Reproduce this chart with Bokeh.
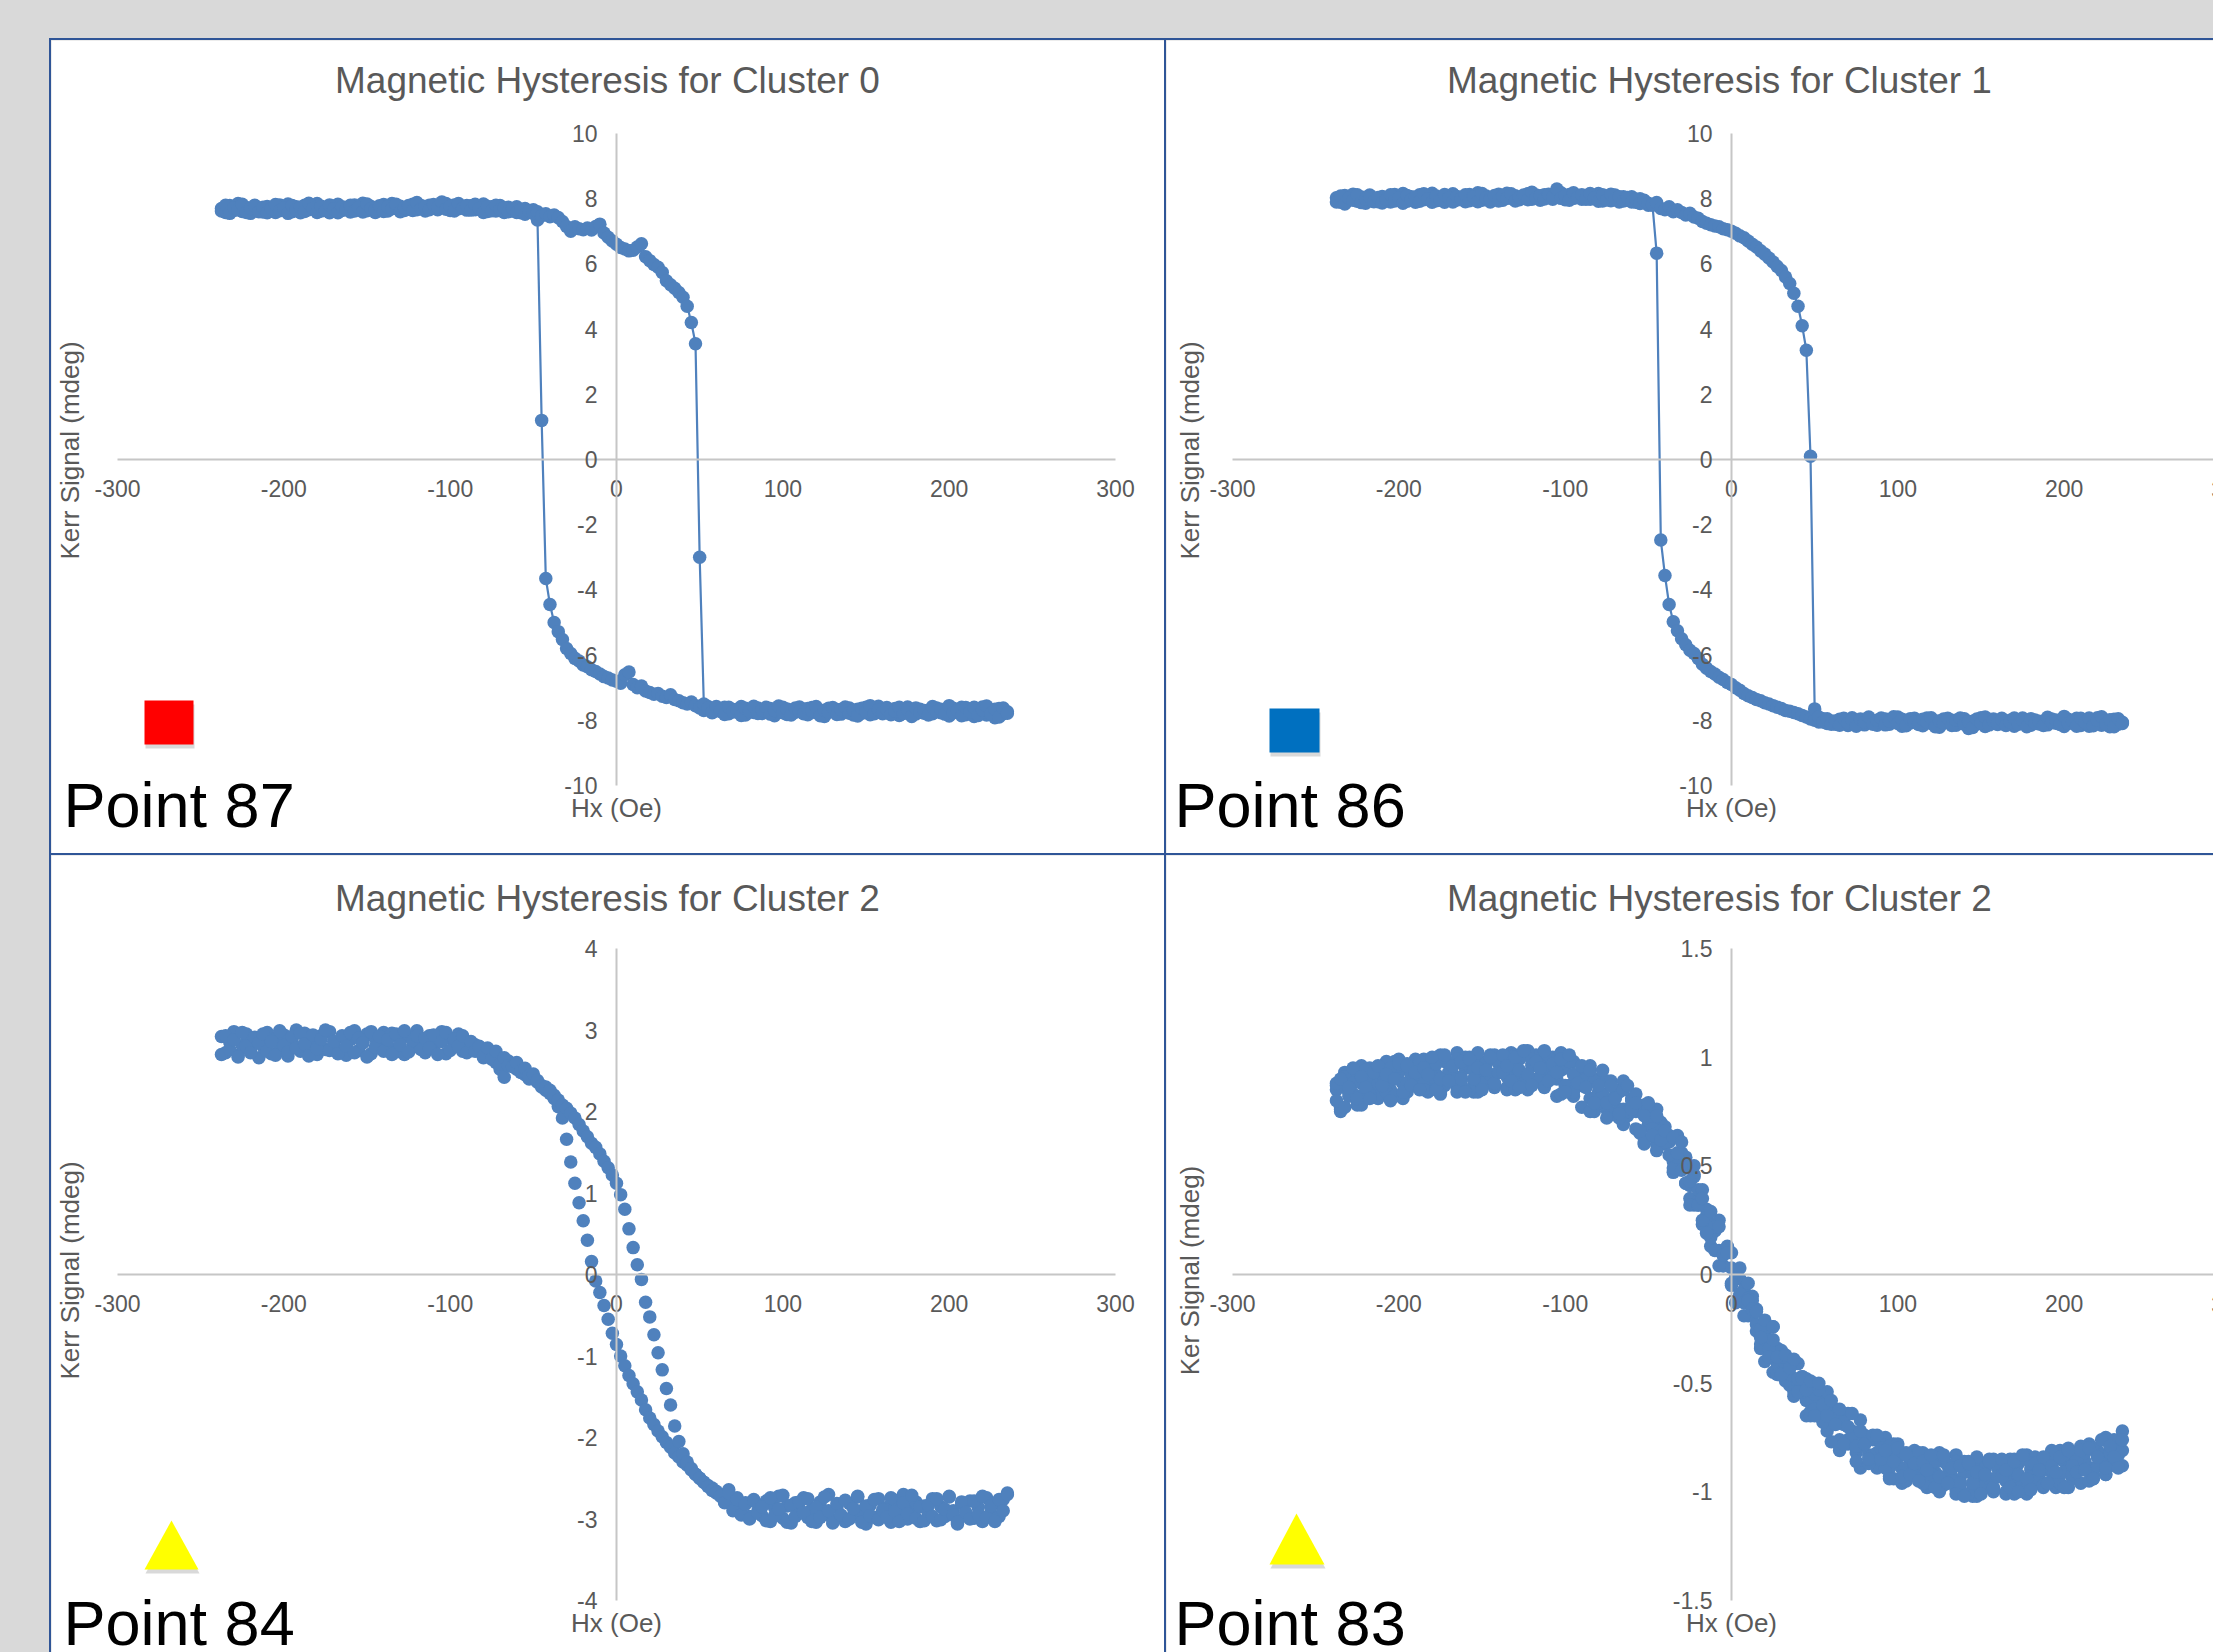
import math
from bokeh.plotting import figure
from bokeh.models import (LinearAxis, FixedTicker, CustomJSTickFormatter, Range1d,
                          Label, BoxAnnotation, PolyAnnotation, Spacer)
from bokeh.layouts import column, row
from bokeh.embed import file_html
from bokeh.resources import INLINE

# ---------------- data ----------------
HX = [
    -237.5, -235, -232.5, -230, -227.5, -225, -222.5, -220, -217.5, -215,
    -212.5, -210, -207.5, -205, -202.5, -200, -197.5, -195, -192.5, -190,
    -187.5, -185, -182.5, -180, -177.5, -175, -172.5, -170, -167.5, -165,
    -162.5, -160, -157.5, -155, -152.5, -150, -147.5, -145, -142.5, -140,
    -137.5, -135, -132.5, -130, -127.5, -125, -122.5, -120, -117.5, -115,
    -112.5, -110, -107.5, -105, -102.5, -100, -97.5, -95, -92.5, -90,
    -87.5, -85, -82.5, -80, -77.5, -75, -72.5, -70, -67.5, -65,
    -62.5, -60, -57.5, -55, -52.5, -50, -47.5, -45, -42.5, -40,
    -37.5, -35, -32.5, -30, -27.5, -25, -22.5, -20, -17.5, -15,
    -12.5, -10, -7.5, -5, -2.5, 0, 2.5, 5, 7.5, 10,
    12.5, 15, 17.5, 20, 22.5, 25, 27.5, 30, 32.5, 35,
    37.5, 40, 42.5, 45, 47.5, 50, 52.5, 55, 57.5, 60,
    62.5, 65, 67.5, 70, 72.5, 75, 77.5, 80, 82.5, 85,
    87.5, 90, 92.5, 95, 97.5, 100, 102.5, 105, 107.5, 110,
    112.5, 115, 117.5, 120, 122.5, 125, 127.5, 130, 132.5, 135,
    137.5, 140, 142.5, 145, 147.5, 150, 152.5, 155, 157.5, 160,
    162.5, 165, 167.5, 170, 172.5, 175, 177.5, 180, 182.5, 185,
    187.5, 190, 192.5, 195, 197.5, 200, 202.5, 205, 207.5, 210,
    212.5, 215, 217.5, 220, 222.5, 225, 227.5, 230, 232.5, 235,
]

# Cluster 0 (Point 87): increasing-field branch and decreasing-field branch (both listed along HX)
C0_UP = [
    7.62, 7.80, 7.55, 7.72, 7.66, 7.83, 7.58, 7.70, 7.78, 7.60,
    7.74, 7.57, 7.69, 7.82, 7.63, 7.71, 7.55, 7.79, 7.67, 7.74,
    7.61, 7.86, 7.70, 7.58, 7.77, 7.64, 7.81, 7.69, 7.57, 7.75,
    7.68, 7.80, 7.62, 7.73, 7.59, 7.84, 7.70, 7.66, 7.78, 7.61,
    7.75, 7.69, 7.83, 7.60, 7.72, 7.79, 7.64, 7.88, 7.70, 7.76,
    7.66, 7.82, 7.74, 7.90, 7.68, 7.77, 7.62, 7.85, 7.71, 7.79,
    7.65, 7.83, 7.70, 7.58, 7.76, 7.63, 7.80, 7.67, 7.72, 7.60,
    7.70, 7.58, 7.66, 7.52, 7.62, 7.55, 7.60, 7.48, 7.54, 7.45,
    7.50, 7.42, 7.30, 7.15, 7.00, 7.14, 7.08, 7.05, 7.10, 7.04,
    7.15, 7.22, 6.95, 6.82, 6.70, 6.60, 6.50, 6.46, 6.40, 6.42,
    6.52, 6.62, 6.22, 6.10, 5.98, 5.90, 5.74, 5.48, 5.36, 5.25,
    5.12, 4.98, 4.70, 4.20, 3.55, -3.00, -7.50, -7.62, -7.75, -7.58,
    -7.70, -7.82, -7.60, -7.74, -7.66, -7.85, -7.63, -7.72, -7.57, -7.79,
    -7.68, -7.60, -7.81, -7.70, -7.56, -7.77, -7.65, -7.84, -7.62, -7.73,
    -7.80, -7.64, -7.71, -7.58, -7.86, -7.69, -7.75, -7.61, -7.82, -7.67,
    -7.59, -7.78, -7.70, -7.87, -7.63, -7.74, -7.55, -7.80, -7.68, -7.76,
    -7.65, -7.83, -7.72, -7.60, -7.79, -7.67, -7.88, -7.62, -7.75, -7.70,
    -7.84, -7.58, -7.73, -7.66, -7.81, -7.55, -7.77, -7.69, -7.86, -7.61,
    -7.74, -7.60, -7.85, -7.68, -7.56, -7.80, -7.66, -7.90, -7.62, -7.78,
]
C0_DN = [
    7.70, 7.58, 7.79, 7.64, 7.85, 7.61, 7.73, 7.55, 7.80, 7.67,
    7.59, 7.76, 7.63, 7.58, 7.81, 7.69, 7.84, 7.60, 7.75, 7.57,
    7.80, 7.66, 7.74, 7.85, 7.62, 7.70, 7.57, 7.77, 7.83, 7.64,
    7.72, 7.59, 7.81, 7.66, 7.86, 7.63, 7.76, 7.58, 7.68, 7.82,
    7.62, 7.85, 7.70, 7.77, 7.64, 7.68, 7.83, 7.66, 7.79, 7.62,
    7.80, 7.71, 7.66, 7.79, 7.85, 7.64, 7.81, 7.69, 7.76, 7.65,
    7.78, 7.66, 7.72, 7.84, 7.61, 7.75, 7.62, 7.79, 7.58, 7.74,
    7.62, 7.75, 7.57, 7.70, 7.60, 7.66, 7.35, 1.20, -3.65, -4.45,
    -5.00, -5.28, -5.52, -5.80, -5.95, -6.10, -6.18, -6.30, -6.36, -6.45,
    -6.50, -6.58, -6.66, -6.70, -6.76, -6.80, -6.86, -6.60, -6.52, -6.90,
    -7.00, -6.95, -7.10, -7.15, -7.20, -7.18, -7.26, -7.30, -7.22, -7.36,
    -7.40, -7.46, -7.50, -7.44, -7.55, -7.62, -7.70, -7.58, -7.77, -7.65,
    -7.73, -7.60, -7.80, -7.67, -7.75, -7.58, -7.84, -7.69, -7.76, -7.62,
    -7.79, -7.71, -7.64, -7.86, -7.68, -7.60, -7.82, -7.70, -7.75, -7.59,
    -7.66, -7.83, -7.61, -7.77, -7.70, -7.88, -7.63, -7.74, -7.67, -7.81,
    -7.72, -7.62, -7.84, -7.66, -7.78, -7.60, -7.83, -7.69, -7.57, -7.80,
    -7.61, -7.76, -7.64, -7.85, -7.70, -7.59, -7.74, -7.81, -7.66, -7.78,
    -7.69, -7.80, -7.62, -7.77, -7.68, -7.87, -7.63, -7.75, -7.60, -7.83,
    -7.66, -7.88, -7.72, -7.59, -7.84, -7.70, -7.92, -7.64, -7.80, -7.74,
]

# Cluster 1 (Point 86)
C1_UP = [
    7.90, 8.08, 7.84, 8.02, 7.95, 8.12, 7.88, 8.00, 8.06, 7.91,
    8.04, 7.87, 7.98, 8.12, 7.93, 8.01, 7.86, 8.10, 7.97, 8.05,
    7.92, 8.15, 8.00, 7.89, 8.08, 7.95, 8.13, 8.02, 7.90, 8.07,
    8.00, 8.12, 7.94, 8.05, 7.91, 8.16, 8.02, 7.98, 8.10, 7.93,
    8.08, 8.01, 8.15, 7.93, 8.04, 8.11, 7.97, 8.20, 8.03, 8.09,
    7.99, 8.14, 8.06, 8.30, 8.01, 8.10, 7.95, 8.18, 8.04, 8.12,
    7.98, 8.16, 8.03, 7.92, 8.12, 7.96, 8.14, 8.00, 8.06, 7.93,
    8.04, 7.90, 7.98, 7.85, 7.95, 7.86, 7.82, 7.88, 7.70, 7.66,
    7.75, 7.60, 7.66, 7.58, 7.50, 7.55, 7.44, 7.40, 7.30, 7.25,
    7.20, 7.16, 7.14, 7.08, 7.05, 7.00, 6.94, 6.86, 6.80, 6.70,
    6.60, 6.52, 6.40, 6.30, 6.18, 6.06, 5.92, 5.80, 5.60, 5.40,
    5.10, 4.70, 4.10, 3.35, 0.10, -7.65, -7.90, -8.05, -7.95, -8.12,
    -8.02, -8.15, -7.94, -8.08, -7.98, -8.18, -7.96, -8.06, -7.90, -8.12,
    -8.00, -7.93, -8.14, -8.03, -7.89, -8.10, -7.97, -8.17, -7.95, -8.06,
    -8.13, -7.97, -8.05, -7.92, -8.20, -8.02, -8.09, -7.94, -8.16, -8.00,
    -7.93, -8.12, -8.04, -8.22, -7.96, -8.08, -7.90, -8.14, -8.01, -8.10,
    -7.98, -8.16, -8.05, -7.93, -8.12, -8.00, -8.20, -7.95, -8.08, -8.03,
    -8.16, -7.91, -8.06, -7.99, -8.13, -7.88, -8.10, -8.02, -8.18, -7.94,
    -8.07, -7.93, -8.17, -8.00, -7.89, -8.12, -7.98, -8.20, -7.95, -8.10,
]
C1_DN = [
    8.03, 7.89, 8.10, 7.96, 8.14, 7.92, 8.05, 7.86, 8.11, 7.99,
    7.91, 8.07, 7.95, 7.90, 8.13, 8.00, 8.16, 7.92, 8.06, 7.89,
    8.12, 7.97, 8.05, 8.17, 7.94, 8.02, 7.89, 8.09, 8.15, 7.96,
    8.04, 7.91, 8.13, 7.98, 8.18, 7.95, 8.08, 7.90, 8.00, 8.14,
    7.95, 8.17, 8.02, 8.09, 7.97, 8.01, 8.15, 7.98, 8.11, 7.95,
    8.12, 8.03, 7.98, 8.12, 8.18, 7.97, 8.13, 8.01, 8.08, 7.98,
    8.10, 7.98, 8.04, 8.16, 7.93, 8.07, 7.94, 8.11, 7.90, 8.06,
    7.95, 8.06, 7.89, 8.00, 7.92, 7.80, 7.80, 6.33, -2.47, -3.56,
    -4.45, -4.98, -5.25, -5.50, -5.68, -5.85, -5.95, -6.10, -6.28, -6.40,
    -6.50, -6.58, -6.68, -6.75, -6.84, -6.90, -7.00, -7.08, -7.18, -7.25,
    -7.30, -7.36, -7.40, -7.46, -7.50, -7.55, -7.60, -7.64, -7.70, -7.72,
    -7.76, -7.80, -7.85, -7.90, -7.96, -8.00, -8.05, -7.95, -8.10, -8.02,
    -8.12, -7.97, -8.06, -8.16, -7.92, -8.09, -8.01, -8.14, -7.95, -8.07,
    -8.15, -8.02, -7.96, -8.12, -8.05, -7.90, -8.18, -8.00, -8.08, -7.94,
    -8.04, -8.17, -7.93, -8.10, -8.02, -8.21, -7.96, -8.07, -8.00, -8.15,
    -8.06, -7.95, -8.25, -8.03, -8.11, -7.92, -8.19, -8.01, -7.96, -8.13,
    -7.94, -8.10, -8.00, -8.18, -8.04, -7.93, -8.08, -8.15, -7.99, -8.11,
    -8.03, -8.14, -7.96, -8.09, -8.01, -8.19, -7.97, -8.07, -7.94, -8.16,
    -8.00, -8.18, -8.05, -7.92, -8.15, -8.02, -8.20, -7.97, -8.12, -8.06,
]

# Cluster 2 (Point 84)
C2_UP = [
    2.70, 2.93, 2.76, 2.88, 2.67, 2.97, 2.80, 2.72, 2.91, 2.84,
    2.95, 2.74, 2.86, 2.69, 2.99, 2.81, 2.73, 2.92, 2.78, 2.96,
    2.83, 2.68, 2.94, 2.77, 2.89, 3.00, 2.75, 2.86, 2.71, 2.93,
    2.80, 2.97, 2.72, 2.90, 2.84, 2.67, 2.98, 2.79, 2.92, 2.74,
    2.88, 2.70, 2.95, 2.82, 2.99, 2.73, 2.87, 2.93, 2.76, 2.90,
    2.78, 2.94, 2.70, 2.86, 2.97, 2.75, 2.89, 2.80, 2.93, 2.72,
    2.86, 2.74, 2.80, 2.68, 2.78, 2.64, 2.74, 2.58, 2.66, 2.56,
    2.55, 2.60, 2.50, 2.53, 2.44, 2.46, 2.38, 2.32, 2.30, 2.26,
    2.20, 2.14, 2.08, 2.04, 1.98, 1.92, 1.84, 1.76, 1.69, 1.61,
    1.56, 1.48, 1.39, 1.31, 1.22, 1.12, 0.98, 0.80, 0.56, 0.33,
    0.12, -0.06, -0.34, -0.52, -0.74, -0.96, -1.17, -1.40, -1.60, -1.86,
    -2.05, -2.20, -2.30, -2.38, -2.45, -2.50, -2.55, -2.60, -2.65, -2.68,
    -2.72, -2.80, -2.68, -2.90, -2.76, -2.95, -2.82, -3.00, -2.78, -2.93,
    -2.85, -3.02, -2.74, -2.96, -2.88, -2.71, -3.04, -2.83, -2.97, -2.79,
    -2.92, -2.75, -3.03, -2.86, -2.98, -2.73, -2.90, -3.05, -2.81, -2.95,
    -2.77, -3.00, -2.87, -2.72, -3.04, -2.84, -2.96, -2.76, -3.01, -2.89,
    -2.98, -2.74, -2.91, -3.03, -2.80, -2.94, -2.71, -2.99, -2.85, -3.02,
    -2.83, -2.97, -2.75, -3.01, -2.88, -2.73, -2.95, -3.04, -2.79, -2.92,
    -3.00, -2.78, -2.94, -2.72, -2.98, -2.84, -3.03, -2.76, -2.90, -2.70,
]
C2_DN = [
    2.92, 2.72, 2.85, 2.98, 2.69, 2.81, 2.95, 2.75, 2.88, 2.66,
    2.80, 2.97, 2.71, 2.90, 2.77, 2.94, 2.68, 2.86, 3.00, 2.74,
    2.96, 2.79, 2.87, 2.70, 2.93, 2.76, 2.98, 2.82, 2.73, 2.91,
    2.69, 2.88, 2.99, 2.75, 2.85, 2.95, 2.71, 2.90, 2.78, 2.97,
    2.81, 2.96, 2.73, 2.89, 2.70, 2.92, 2.79, 2.99, 2.84, 2.72,
    2.93, 2.77, 2.87, 2.98, 2.71, 2.90, 2.80, 2.95, 2.74, 2.85,
    2.78, 2.82, 2.74, 2.66, 2.76, 2.70, 2.60, 2.52, 2.42, 2.62,
    2.58, 2.52, 2.48, 2.45, 2.40, 2.42, 2.36, 2.30, 2.26, 2.22,
    2.16, 2.06, 1.92, 1.66, 1.38, 1.12, 0.88, 0.66, 0.42, 0.16,
    -0.08, -0.22, -0.38, -0.55, -0.72, -0.86, -1.00, -1.12, -1.24, -1.34,
    -1.44, -1.54, -1.66, -1.76, -1.84, -1.92, -1.99, -2.06, -2.12, -2.19,
    -2.24, -2.30, -2.34, -2.40, -2.45, -2.50, -2.55, -2.59, -2.62, -2.66,
    -2.70, -2.79, -2.64, -2.84, -2.74, -2.92, -2.80, -2.97, -2.76, -2.90,
    -2.96, -2.78, -3.03, -2.86, -2.72, -2.99, -2.84, -3.05, -2.80, -2.93,
    -2.74, -2.98, -2.88, -3.04, -2.79, -2.94, -2.70, -3.01, -2.86, -2.97,
    -3.03, -2.81, -2.95, -2.73, -2.90, -3.06, -2.83, -2.98, -2.75, -2.92,
    -2.86, -3.04, -2.77, -2.94, -2.70, -3.00, -2.88, -2.79, -3.03, -2.84,
    -2.93, -2.75, -3.02, -2.85, -2.97, -2.72, -2.90, -3.06, -2.81, -2.95,
    -2.78, -2.99, -2.86, -3.03, -2.74, -2.93, -2.81, -2.97, -2.76, -2.68,
]

# Cluster 2 (Point 83): two loops were recorded, each with both field directions
C3_UP = [
    0.85, 0.77, 0.93, 0.84, 0.91, 0.82, 0.78, 0.90, 0.95, 0.85,
    0.83, 0.89, 0.98, 0.81, 0.94, 0.96, 0.88, 0.85, 0.92, 0.99,
    0.97, 0.88, 0.84, 0.94, 0.92, 1.01, 0.87, 0.97, 0.92, 0.86,
    0.91, 1.00, 0.96, 0.87, 0.84, 0.94, 0.98, 0.89, 1.01, 0.93,
    0.97, 0.85, 0.95, 1.01, 0.91, 0.88, 1.03, 0.96, 0.89, 0.97,
    0.89, 1.00, 0.94, 0.90, 1.02, 0.96, 0.84, 0.98, 0.91, 0.87,
    0.90, 0.96, 0.81, 0.90, 0.83, 0.76, 0.89, 0.81, 0.84, 0.89,
    0.75, 0.80, 0.83, 0.66, 0.78, 0.72, 0.67, 0.76, 0.60, 0.68,
    0.63, 0.52, 0.64, 0.52, 0.54, 0.41, 0.32, 0.39, 0.39, 0.25,
    0.19, 0.20, 0.25, 0.04, 0.12, 0.10, -0.02, -0.10, -0.07, -0.04,
    -0.10, -0.23, -0.32, -0.25, -0.30, -0.24, -0.41, -0.35, -0.42, -0.51,
    -0.48, -0.41, -0.47, -0.58, -0.63, -0.55, -0.53, -0.64, -0.54, -0.64,
    -0.62, -0.76, -0.69, -0.64, -0.76, -0.80, -0.67, -0.75, -0.83, -0.76,
    -0.89, -0.78, -0.85, -0.89, -0.78, -0.84, -0.96, -0.82, -0.88, -0.92,
    -0.88, -0.82, -0.96, -0.87, -0.93, -0.99, -0.86, -0.93, -0.89, -0.83,
    -0.97, -0.91, -0.86, -1.02, -0.88, -0.93, -0.96, -0.85, -0.99, -0.89,
    -0.91, -1.00, -0.85, -0.93, -0.87, -0.96, -1.01, -0.89, -0.84, -0.94,
    -0.96, -0.90, -0.81, -0.98, -0.85, -0.83, -0.91, -0.94, -0.87, -0.79,
    -0.81, -0.89, -0.94, -0.83, -0.85, -0.75, -0.88, -0.79, -0.83, -0.88,
]
C3_DN = [
    0.87, 0.76, 0.86, 0.92, 0.83, 0.80, 0.96, 0.89, 0.83, 0.91,
    0.81, 0.94, 0.88, 0.85, 0.98, 0.93, 0.81, 0.97, 0.91, 0.88,
    0.92, 0.99, 0.86, 0.96, 0.90, 0.84, 0.98, 0.92, 0.96, 1.02,
    0.89, 0.95, 1.00, 0.84, 0.98, 0.93, 0.90, 1.01, 0.87, 0.97,
    0.95, 0.86, 1.02, 0.93, 0.99, 0.90, 0.85, 0.97, 1.01, 0.91,
    0.87, 0.91, 1.00, 0.82, 0.94, 0.95, 0.87, 0.82, 0.88, 0.94,
    0.91, 0.81, 0.75, 0.84, 0.81, 0.89, 0.74, 0.82, 0.76, 0.69,
    0.73, 0.81, 0.75, 0.65, 0.60, 0.69, 0.71, 0.60, 0.70, 0.60,
    0.61, 0.47, 0.53, 0.56, 0.42, 0.35, 0.46, 0.34, 0.23, 0.27,
    0.13, 0.21, 0.11, 0.04, 0.12, 0.03, -0.13, -0.02, -0.12, -0.19,
    -0.19, -0.16, -0.34, -0.27, -0.36, -0.45, -0.34, -0.44, -0.42, -0.39,
    -0.54, -0.50, -0.47, -0.65, -0.53, -0.60, -0.65, -0.56, -0.72, -0.64,
    -0.68, -0.79, -0.66, -0.76, -0.72, -0.82, -0.89, -0.78, -0.75, -0.86,
    -0.87, -0.83, -0.75, -0.93, -0.82, -0.81, -0.89, -0.94, -0.87, -0.81,
    -0.83, -0.93, -0.98, -0.89, -0.91, -0.82, -0.97, -0.88, -0.93, -0.99,
    -0.95, -0.86, -0.90, -0.99, -1.02, -0.92, -0.88, -0.97, -0.85, -0.93,
    -0.89, -1.01, -0.92, -0.85, -0.95, -0.98, -0.83, -0.90, -0.96, -0.88,
    -0.98, -0.85, -0.91, -0.94, -0.81, -0.86, -0.98, -0.82, -0.88, -0.90,
    -0.86, -0.78, -0.92, -0.81, -0.87, -0.92, -0.77, -0.84, -0.79, -0.72,
]
C3_UP_B = [
    0.80, 0.90, 0.77, 0.86, 0.95, 0.81, 0.91, 0.86, 0.81, 0.93,
    0.96, 0.87, 0.92, 0.80, 0.90, 0.97, 0.84, 0.96, 0.87, 0.93,
    0.85, 0.95, 0.92, 1.00, 0.85, 0.90, 1.01, 0.89, 0.96, 0.84,
    0.98, 0.84, 0.99, 0.90, 0.95, 0.85, 0.94, 1.00, 0.88, 0.93,
    0.93, 0.96, 0.89, 1.00, 0.86, 1.03, 0.92, 0.87, 0.98, 0.95,
    1.03, 0.89, 0.97, 0.93, 0.99, 0.84, 1.01, 0.92, 0.88, 0.96,
    0.86, 0.94, 0.79, 0.87, 0.94, 0.79, 0.87, 0.81, 0.74, 0.85,
    0.87, 0.76, 0.79, 0.66, 0.73, 0.79, 0.64, 0.73, 0.62, 0.66,
    0.55, 0.63, 0.56, 0.61, 0.42, 0.43, 0.50, 0.32, 0.35, 0.19,
    0.29, 0.11, 0.22, 0.09, 0.10, -0.04, 0.01, 0.03, -0.13, -0.12,
    -0.16, -0.17, -0.29, -0.21, -0.38, -0.24, -0.38, -0.46, -0.37, -0.43,
    -0.39, -0.54, -0.48, -0.53, -0.49, -0.65, -0.50, -0.60, -0.65, -0.58,
    -0.69, -0.62, -0.78, -0.70, -0.64, -0.79, -0.72, -0.78, -0.85, -0.74,
    -0.74, -0.85, -0.81, -0.94, -0.86, -0.80, -0.93, -0.83, -0.92, -0.87,
    -0.95, -0.86, -0.90, -0.83, -0.98, -0.93, -0.83, -0.96, -0.89, -1.01,
    -0.88, -1.02, -0.87, -0.96, -0.91, -1.01, -0.92, -0.86, -0.98, -0.93,
    -0.93, -0.90, -0.98, -0.86, -1.00, -0.83, -0.94, -0.99, -0.87, -0.90,
    -0.84, -0.96, -0.88, -0.91, -0.84, -0.98, -0.81, -0.88, -0.91, -0.81,
    -0.90, -0.80, -0.94, -0.84, -0.76, -0.89, -0.79, -0.84, -0.89, -0.76,
]
C3_DN_B = [
    0.88, 0.75, 0.91, 0.82, 0.88, 0.78, 0.88, 0.94, 0.83, 0.88,
    0.88, 0.92, 0.84, 0.95, 0.82, 0.99, 0.88, 0.84, 0.95, 0.92,
    0.98, 0.85, 0.94, 0.91, 0.97, 0.83, 1.00, 0.93, 0.90, 0.99,
    0.90, 0.99, 0.85, 0.94, 1.02, 0.88, 0.97, 0.92, 0.86, 0.98,
    1.01, 0.91, 0.97, 0.85, 0.94, 1.01, 0.88, 0.99, 0.90, 0.96,
    0.86, 0.95, 0.91, 0.98, 0.83, 0.87, 0.98, 0.84, 0.90, 0.77,
    0.90, 0.75, 0.89, 0.79, 0.83, 0.72, 0.80, 0.85, 0.72, 0.76,
    0.75, 0.77, 0.67, 0.77, 0.61, 0.77, 0.64, 0.57, 0.66, 0.61,
    0.64, 0.49, 0.54, 0.48, 0.50, 0.32, 0.45, 0.32, 0.25, 0.30,
    0.17, 0.22, 0.04, 0.09, 0.13, -0.05, 0.00, -0.09, -0.19, -0.11,
    -0.12, -0.26, -0.25, -0.40, -0.34, -0.30, -0.46, -0.38, -0.49, -0.46,
    -0.56, -0.48, -0.54, -0.48, -0.65, -0.62, -0.53, -0.68, -0.63, -0.77,
    -0.65, -0.81, -0.68, -0.78, -0.75, -0.86, -0.79, -0.74, -0.87, -0.83,
    -0.82, -0.80, -0.89, -0.79, -0.94, -0.78, -0.89, -0.95, -0.84, -0.88,
    -0.82, -0.96, -0.88, -0.92, -0.86, -1.00, -0.84, -0.92, -0.95, -0.86,
    -0.96, -0.87, -1.01, -0.92, -0.84, -0.98, -0.89, -0.94, -1.00, -0.88,
    -0.85, -0.95, -0.90, -1.01, -0.92, -0.85, -0.98, -0.87, -0.95, -0.89,
    -0.97, -0.86, -0.90, -0.82, -0.96, -0.91, -0.80, -0.92, -0.85, -0.96,
    -0.82, -0.95, -0.80, -0.88, -0.83, -0.92, -0.82, -0.76, -0.87, -0.81,
]

for _name, _arr in [("C0_UP", C0_UP), ("C0_DN", C0_DN), ("C1_UP", C1_UP), ("C1_DN", C1_DN),
                    ("C2_UP", C2_UP), ("C2_DN", C2_DN), ("C3_UP", C3_UP), ("C3_DN", C3_DN),
                    ("C3_UP_B", C3_UP_B), ("C3_DN_B", C3_DN_B)]:
    if len(_arr) != len(HX):
        raise SystemExit(f"{_name} has {len(_arr)} values, HX has {len(HX)}")

X_TICKS = [-300, -200, -100, 0, 100, 200, 300]
Y_TICKS_0 = [-10, -8, -6, -4, -2, 0, 2, 4, 6, 8, 10]
Y_TICKS_2 = [-4, -3, -2, -1, 0, 1, 2, 3, 4]
Y_TICKS_3 = [-1.5, -1, -0.5, 0, 0.5, 1, 1.5]

TITLES = ["Magnetic Hysteresis for Cluster 0", "Magnetic Hysteresis for Cluster 1",
          "Magnetic Hysteresis for Cluster 2", "Magnetic Hysteresis for Cluster 2"]
Y_LABELS = ["Kerr Signal (mdeg)", "Kerr Signal (mdeg)", "Kerr Signal (mdeg)", "Ker Signal (mdeg)"]
X_LABEL = "Hx (Oe)"
POINT_NAMES = ["Point 87", "Point 86", "Point 84", "Point 83"]

# ---------------- styling / layout ----------------
BLUE = "#4f81bd"
GREY_TXT = "#595959"
AXIS_GREY = "#c6c6c6"
NAVY = "#2f5597"
PAGE_GREY = "#d9d9d9"
FONT = "Liberation Sans"

PAGE_W, PAGE_H = 2213, 1652
LEFT_GAP, TOP_GAP, BORDER = 49, 38, 2
W_L = 1113
W_R = PAGE_W - LEFT_GAP - BORDER - W_L - BORDER
H_T = 813
H_B = PAGE_H - TOP_GAP - BORDER - H_T - BORDER

# plot area of each panel, in pixels from the panel's top-left corner
AREA_L, AREA_T, AREA_H, AREA_W = 66, 93, 652, 998
XSCALE = AREA_W / 600.0


def make_panel(width, height, ymin, ymax, yticks, sweeps, with_line, title, title_cx, title_cy,
               ylabel, ylabel_cx, ylabel_cy, point_name, point_px, point_cy, mark):
    def dx(px):
        return -300 + (px - AREA_L) / XSCALE

    def dy(py):
        return ymax - (py - AREA_T) * (ymax - ymin) / AREA_H

    xmax = dx(width)
    p = figure(width=width, height=height,
               x_range=Range1d(dx(0), xmax), y_range=Range1d(dy(height), dy(0)),
               x_axis_type=None, y_axis_type=None,
               toolbar_location=None, output_backend="svg",
               min_border=0, outline_line_color=None,
               background_fill_color="white", border_fill_color="white")

    fmt = CustomJSTickFormatter(code="return String(tick);")
    common = dict(axis_line_color=AXIS_GREY, axis_line_width=2,
                  major_tick_line_color=None, minor_tick_line_color=None,
                  major_tick_out=0, major_tick_in=0, minor_tick_out=0, minor_tick_in=0,
                  major_label_text_font=FONT, major_label_text_font_size="23px",
                  major_label_text_color=GREY_TXT, formatter=fmt)
    xa = LinearAxis(fixed_location=0, ticker=FixedTicker(ticks=X_TICKS), bounds=(-300, 300),
                    major_label_standoff=20, **common)
    ya = LinearAxis(fixed_location=0, ticker=FixedTicker(ticks=yticks), bounds=(ymin, ymax),
                    major_label_standoff=19, **common)
    p.add_layout(xa, "below")
    p.add_layout(ya, "left")

    # the 300 tick label that falls on the (cut) right edge of the right-hand panels
    if xmax < X_TICKS[-1]:
        p.add_layout(Label(x=X_TICKS[-1], y=dy(448.5), text=str(X_TICKS[-1]), text_font=FONT,
                           text_font_size="23px", text_color=GREY_TXT,
                           text_align="center", text_baseline="middle"))

    for up, dn in sweeps:
        if with_line:
            p.line(x=HX[::-1] + HX, y=dn[::-1] + up, line_color=BLUE, line_width=2.2)
        p.scatter(x=HX + HX, y=dn + up, size=13.5, marker="circle",
                  fill_color=BLUE, line_color=BLUE, line_width=0)

    # texts
    p.add_layout(Label(x=dx(title_cx), y=dy(title_cy), text=title, text_font=FONT,
                       text_font_size="37px", text_color=GREY_TXT,
                       text_align="center", text_baseline="middle"))
    p.add_layout(Label(x=0, y=dy(767.5), text=X_LABEL, text_font=FONT,
                       text_font_size="26px", text_color=GREY_TXT,
                       text_align="center", text_baseline="middle"))
    p.add_layout(Label(x=dx(ylabel_cx), y=dy(ylabel_cy), text=ylabel, text_font=FONT,
                       text_font_size="26px", text_color=GREY_TXT, angle=math.pi / 2,
                       text_align="center", text_baseline="middle"))

    kind, color, geo = mark
    if kind == "square":
        l, r, t, b = geo
        p.add_layout(BoxAnnotation(left=dx(l + 1), right=dx(r + 1), top=dy(t + 4), bottom=dy(b + 4),
                                   fill_color="#808080", fill_alpha=0.30, line_color=None))
        p.add_layout(BoxAnnotation(left=dx(l), right=dx(r), top=dy(t), bottom=dy(b),
                                   fill_color=color, fill_alpha=1.0, line_color=None))
    else:
        (ax_, ay_), base_y, bl, br = geo
        p.add_layout(PolyAnnotation(xs=[dx(ax_ + 1), dx(bl + 1), dx(br + 1)],
                                    ys=[dy(ay_ + 4), dy(base_y + 4), dy(base_y + 4)],
                                    fill_color="#808080", fill_alpha=0.30, line_color=None))
        p.add_layout(PolyAnnotation(xs=[dx(ax_), dx(bl), dx(br)],
                                    ys=[dy(ay_), dy(base_y), dy(base_y)],
                                    fill_color=color, fill_alpha=1.0, line_color=None))

    p.add_layout(Label(x=dx(point_px), y=dy(point_cy), text=point_name,
                       text_font=FONT, text_font_size="63px", text_color="black",
                       text_align="left", text_baseline="middle"))
    return p


p0 = make_panel(W_L, H_T, -10, 10, Y_TICKS_0, [(C0_UP, C0_DN)], True, TITLES[0], 556, 40,
                Y_LABELS[0], 18, 410, POINT_NAMES[0], 12, 764,
                ("square", "#ff0000", (93, 142, 660, 704)))
p1 = make_panel(W_R, H_T, -10, 10, Y_TICKS_0, [(C1_UP, C1_DN)], True, TITLES[1], 553, 40,
                Y_LABELS[1], 23, 410, POINT_NAMES[1], 8, 764,
                ("square", "#0070c0", (103, 153, 668, 712)))
p2 = make_panel(W_L, H_B, -4, 4, Y_TICKS_2, [(C2_UP, C2_DN)], False, TITLES[2], 556, 42.5,
                Y_LABELS[2], 18, 415, POINT_NAMES[2], 12, 767,
                ("tri", "#ffff00", ((120, 665), 714, 93, 147)))
p3 = make_panel(W_R, H_B, -1.5, 1.5, Y_TICKS_3, [(C3_UP, C3_DN), (C3_UP_B, C3_DN_B)], False,
                TITLES[3], 553, 42.5, Y_LABELS[3], 23, 415, POINT_NAMES[3], 8, 767,
                ("tri", "#ffff00", ((130, 658), 709, 103, 158)))


def vbar(h):
    return Spacer(width=BORDER, height=h, styles={"background-color": NAVY})


def hbar(w):
    return Spacer(width=w, height=BORDER, styles={"background-color": NAVY})


GRID_W = BORDER + W_L + BORDER + W_R
grid = column(hbar(GRID_W),
              row(vbar(H_T), p0, vbar(H_T), p1),
              hbar(GRID_W),
              row(vbar(H_B), p2, vbar(H_B), p3))
page = column(Spacer(width=PAGE_W, height=TOP_GAP),
              row(Spacer(width=LEFT_GAP, height=PAGE_H - TOP_GAP), grid),
              styles={"background-color": PAGE_GREY})

open("out.html", "w").write(file_html(page, INLINE))
